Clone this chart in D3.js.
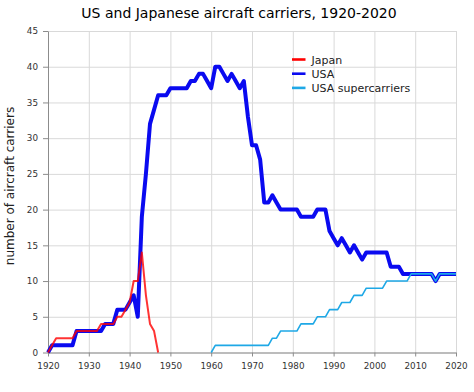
<!DOCTYPE html>
<html>
<head>
<meta charset="utf-8">
<script src="https://cdn.jsdelivr.net/npm/d3@7"></script>
<style>
body{margin:0;background:#fff;}
text{font-family:"DejaVu Sans",Verdana,sans-serif;}
</style>
</head>
<body>
<div class="canvas"></div>
<script>
const years = d3.range(1920, 2021);
const xTicks = [1920,1930,1940,1950,1960,1970,1980,1990,2000,2010,2020];
const yTicks = [0,5,10,15,20,25,30,35,40,45];
const seriesNames = ["Japan", "USA", "USA supercarriers"];

// Japan, 1920-1947
const japan = [0,1,2,2,2,2,2,3,3,3,
  3,3,3,4,4,4,4,5,5,6,
  7,10,10,14,8,4,3,0];
// USA, 1920-2020
const usa = [0,1,1,1,1,1,1,3,3,3,
  3,3,3,3,4,4,4,6,6,6,
  7,8,5,19,25,32,34,36,36,36,
  37,37,37,37,37,38,38,39,39,38,
  37,40,40,39,38,39,38,37,38,33,
  29,29,27,21,21,22,21,20,20,20,
  20,20,19,19,19,19,20,20,20,17,
  16,15,16,15,14,15,14,13,14,14,
  14,14,14,14,12,12,12,11,11,11,
  11,11,11,11,11,10,11,11,11,11,
  11];
// USA supercarriers, 1960-2020
const supercarriers = [0,1,1,1,1,1,1,1,1,1,
  1,1,1,1,1,2,2,3,3,3,
  3,3,4,4,4,4,5,5,5,6,
  6,6,7,7,7,8,8,8,9,9,
  9,9,9,10,10,10,10,10,10,11,
  11,11,11,11,11,10,11,11,11,11,
  11];

const canvasWidth = 474, canvasHeight = 392,
  plotLeft = 48, plotRight = 456, plotTop = 31, plotBottom = 352.5;

const x = d3.scaleLinear().domain([1920, 2020]).range([plotLeft, plotRight]);
const y = d3.scaleLinear().domain([0, 45]).range([plotBottom, plotTop]);

const svg = d3.select(".canvas").append("svg")
  .attr("width", canvasWidth)
  .attr("height", canvasHeight);

// grid
svg.append("g")
  .attr("transform", `translate(0,${plotBottom})`)
  .call(d3.axisBottom(x).tickValues(xTicks).tickSize(-(plotBottom - plotTop)).tickFormat(""))
  .call(g => g.select(".domain").remove())
  .call(g => g.selectAll("line").attr("stroke", "#d9d9d9"));
svg.append("g")
  .attr("transform", `translate(${plotLeft},0)`)
  .call(d3.axisLeft(y).tickValues(yTicks).tickSize(-(plotRight - plotLeft)).tickFormat(""))
  .call(g => g.select(".domain").remove())
  .call(g => g.selectAll("line").attr("stroke", "#d9d9d9"));

// axes
const xAxis = svg.append("g")
  .attr("transform", `translate(0,${plotBottom})`)
  .call(d3.axisBottom(x).tickValues(xTicks).tickFormat(d3.format("d")).tickSize(4).tickSizeOuter(0).tickPadding(6));
const yAxis = svg.append("g")
  .attr("transform", `translate(${plotLeft},0)`)
  .call(d3.axisLeft(y).tickValues(yTicks).tickSize(5).tickSizeOuter(0).tickPadding(5));
[xAxis, yAxis].forEach(a => {
  a.selectAll("path,line").attr("stroke", "#8c8c8c");
  a.selectAll("text").attr("fill", "#333").style("font-size", "8.8px").style("font-family", "DejaVu Sans");
});

const line = d3.line().x(d => x(d[0])).y(d => y(d[1]));
const jpData = japan.map((v, i) => [years[i], v]);
const usData = usa.map((v, i) => [years[i], v]);
const scData = supercarriers.map((v, i) => [years[i + 40], v]);

svg.append("path").datum(usData)
  .attr("fill", "none").attr("stroke", "#0a0af0").attr("stroke-width", 4)
  .attr("stroke-linejoin", "round").attr("d", line);
svg.append("path").datum(jpData)
  .attr("fill", "none").attr("stroke", "#ff0000").attr("stroke-width", 2)
  .attr("stroke-opacity", 0.8).attr("stroke-linejoin", "round").attr("d", line);
svg.append("path").datum(scData)
  .attr("fill", "none").attr("stroke", "#1ea8e6").attr("stroke-width", 1.6)
  .attr("stroke-linejoin", "round").attr("d", line);

// title
svg.append("text")
  .attr("x", 239).attr("y", 18)
  .attr("text-anchor", "middle")
  .style("font-size", "14px")
  .text("US and Japanese aircraft carriers, 1920-2020");

svg.append("text")
  .attr("transform", "translate(14,186) rotate(-90)")
  .attr("text-anchor", "middle")
  .style("font-size", "12px")
  .attr("fill", "#222")
  .text("number of aircraft carriers");

// legend
const colors = ["#ff0000", "#0a0af0", "#1ea8e6"];
const legend = svg.append("g").attr("transform", "translate(292,59.5)");
seriesNames.forEach((name, i) => {
  legend.append("line")
    .attr("x1", 0).attr("x2", 13.5)
    .attr("y1", i * 14.2).attr("y2", i * 14.2)
    .attr("stroke", colors[i]).attr("stroke-width", 2.6);
  legend.append("text")
    .attr("x", 19.5).attr("y", i * 14.2 + 4)
    .style("font-size", "11px")
    .attr("fill", "#222")
    .text(name);
});
</script>
</body>
</html>
